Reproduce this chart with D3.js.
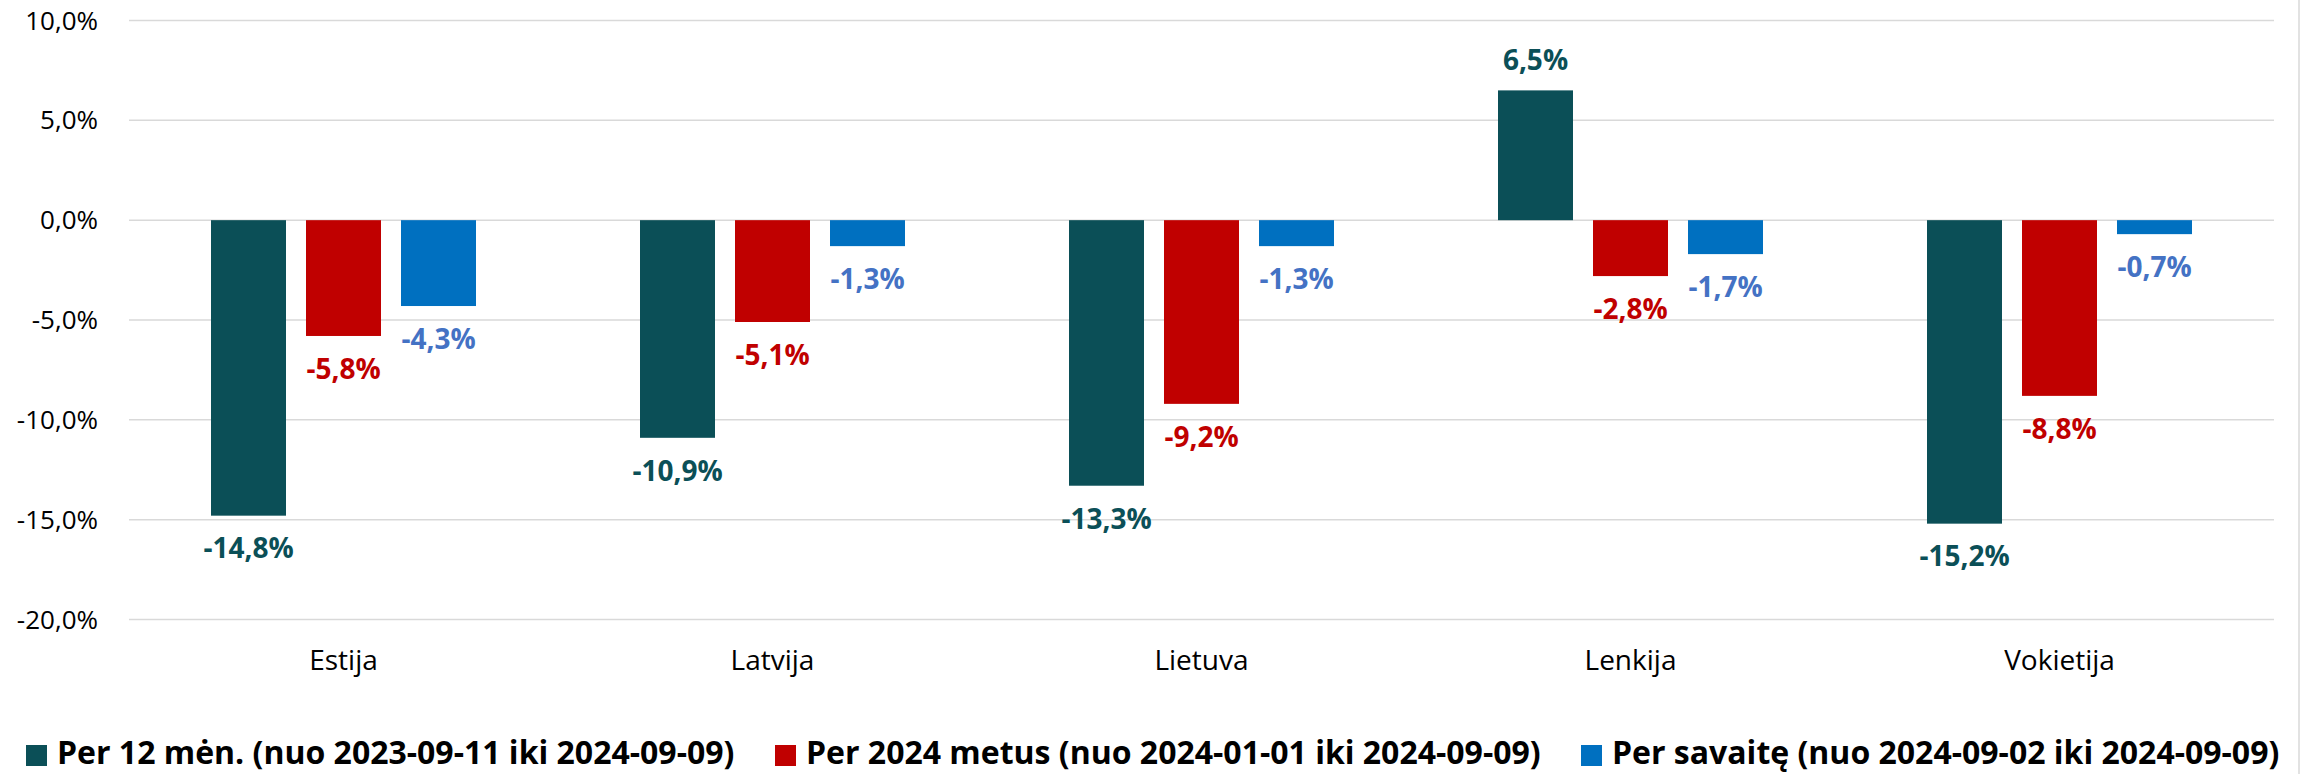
<!DOCTYPE html>
<html><head><meta charset="utf-8">
<script src="https://cdn.jsdelivr.net/npm/d3@7"></script>
<style>html,body{margin:0;padding:0;background:#fff;}svg{display:block;}</style>
</head><body>
<svg id="c" width="2308" height="774"></svg>
<script>
const categories = ["Estija", "Latvija", "Lietuva", "Lenkija", "Vokietija"];
const seriesNames = [
  "Per 12 mėn. (nuo 2023-09-11 iki 2024-09-09)",
  "Per 2024 metus (nuo 2024-01-01 iki 2024-09-09)",
  "Per savaitę (nuo 2024-09-02 iki 2024-09-09)"
];
const s12m = [-14.8, -10.9, -13.3, 6.5, -15.2];
const sYtd = [-5.8, -5.1, -9.2, -2.8, -8.8];
const sWeek = [-4.3, -1.3, -1.3, -1.7, -0.7];
const yTicks = [10, 5, 0, -5, -10, -15, -20];
const barColors = ["#0b4f57", "#c00000", "#0070c0"];
const labelColors = ["#0b4f57", "#c00000", "#4472c4"];

const series = [s12m, sYtd, sWeek];
const svg = d3.select("#c");
const font = "'Open Sans', 'Noto Sans', sans-serif";
const plotLeft = 129, plotRight = 2274, plotTop = 20.5, plotBottom = 619.5;

const y = d3.scaleLinear().domain([-20, 10]).range([plotBottom, plotTop]);
const x0 = d3.scaleBand().domain(categories).range([plotLeft, plotRight]).paddingInner(0).paddingOuter(0);
const x1 = d3.scaleBand().domain([0,1,2]).range([x0.bandwidth()/2 - 132.5, x0.bandwidth()/2 + 132.5]).paddingInner(20/95).paddingOuter(0);

// gridlines
svg.append("g").selectAll("line").data(yTicks).join("line")
  .attr("x1", plotLeft).attr("x2", plotRight)
  .attr("y1", d => y(d)).attr("y2", d => y(d))
  .attr("stroke", "#d9d9d9").attr("stroke-width", 1.5);

// right border
svg.append("line").attr("x1", 2299).attr("x2", 2299).attr("y1", 0).attr("y2", 774)
  .attr("stroke", "#d9d9d9").attr("stroke-width", 1.5);

// y axis labels
const fmt = v => d3.format(".1f")(v).replace(".", ",").replace("−", "-") + "%";
svg.append("g").selectAll("text").data(yTicks).join("text")
  .attr("x", 98).attr("y", d => y(d)).attr("dy", "0.35em")
  .attr("text-anchor", "end").attr("font-family", font).attr("font-size", 26)
  .attr("fill", "#000").text(d => fmt(d));

// bars
const groups = svg.append("g").selectAll("g").data(categories).join("g")
  .attr("transform", c => `translate(${x0(c)},0)`);
groups.each(function(c, ci) {
  const g = d3.select(this);
  series.forEach((s, si) => {
    const v = s[ci];
    g.append("rect")
      .attr("x", x1(si)).attr("width", x1.bandwidth())
      .attr("y", y(Math.max(0, v))).attr("height", Math.abs(y(v) - y(0)))
      .attr("fill", barColors[si]);
    g.append("text")
      .attr("x", x1(si) + x1.bandwidth()/2)
      .attr("y", v >= 0 ? y(v) - 30 : y(v) + 33)
      .attr("dy", "0.35em").attr("text-anchor", "middle")
      .attr("font-family", font).attr("font-size", 28).attr("font-weight", "bold")
      .attr("fill", labelColors[si]).text(fmt(v));
  });
});

// category labels
svg.append("g").selectAll("text").data(categories).join("text")
  .attr("x", c => x0(c) + x0.bandwidth()/2).attr("y", 660).attr("dy", "0.35em")
  .attr("text-anchor", "middle").attr("font-family", font).attr("font-size", 28)
  .attr("fill", "#000").text(c => c);

// legend
const legX = [26, 775, 1581];
const leg = svg.append("g").selectAll("g").data(seriesNames).join("g")
  .attr("transform", (d, i) => `translate(${legX[i]},745)`);
leg.append("rect").attr("width", 21).attr("height", 21).attr("fill", (d, i) => barColors[i]);
leg.append("text").attr("x", 31).attr("y", 18.5)
  .attr("font-family", font).attr("font-size", 32).attr("font-weight", "bold")
  .attr("fill", "#000").text(d => d);
</script>
</body></html>
